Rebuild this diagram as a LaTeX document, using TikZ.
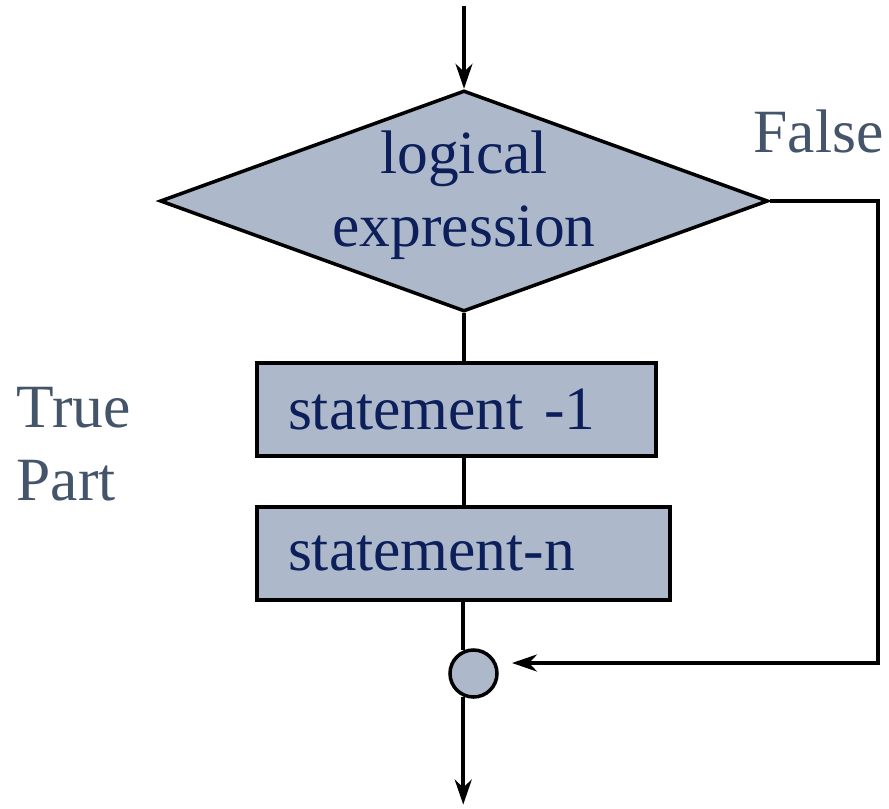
\documentclass[tikz,border=0pt]{standalone}
\usepackage{fontspec}
\setmainfont{Liberation Serif}
\usetikzlibrary{shapes.geometric,arrows.meta}
\definecolor{boxfill}{HTML}{ADB9CA}
\definecolor{boxtext}{HTML}{0D1F5B}
\definecolor{labeltext}{HTML}{44546A}
\begin{document}
\begin{tikzpicture}[line width=2pt,
		every node/.style={font=\fontsize{35}{41.5}\selectfont},
		decision/.style={diamond,draw,fill=boxfill,minimum width=12.16cm,minimum height=4.42cm,inner sep=0pt},
		stmt/.style={rectangle,draw,fill=boxfill,minimum height=1.86cm,inner xsep=0.62cm,align=left,text=boxtext},
		flow/.style={-{Stealth[length=0.5cm,width=0.34cm,inset=0.16cm]}},
		lbl/.style={text=labeltext,align=left,inner sep=0pt}]
		\useasboundingbox (0,0) rectangle (17.78,-16.16);
		\node[decision] (cond) at (9.28,-4.02) {};
		\node[text=boxtext,align=center,inner sep=0pt] (condtxt) at ([yshift=0.12cm]cond.center) {logical\\expression};
		\node[stmt,text width=6.74cm] (s1) at (9.13,-8.19) {statement -1};
		\node[stmt,text width=7.02cm] (sn) at (9.27,-11.07) {statement-n};
		\node[circle,draw,fill=boxfill,minimum size=0.94cm,inner sep=0pt] (join) at (9.47,-13.47) {};
		\node[lbl,anchor=base west] (flbl) at (15.04,-3.04) {False};
		\node[lbl,anchor=base west] (tlbl) at (0.3,-10.0) {True\\Part};
		\coordinate (top) at ([yshift=1.66cm]cond.north);
		\coordinate (exit) at ([yshift=-2.16cm]join.246);
		\coordinate (fcorner) at (17.56,-13.26);
		\coordinate (back) at (10.24,-13.26);
		\draw [flow] (top) -- (cond.north);
		\draw (cond.south) -- (cond.south |- s1.north);
		\draw (cond.south |- s1.south) -- (cond.south |- sn.north);
		\draw (join.114 |- sn.south) -- (join.114);
		\draw [flow] (join.246) -- (exit);
		\draw [flow] (cond.east) -| (fcorner) -- (back);
\end{tikzpicture}
\end{document}
